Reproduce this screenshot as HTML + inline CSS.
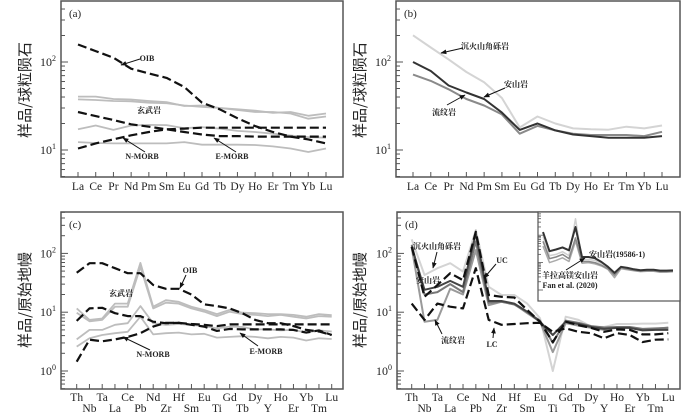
<!DOCTYPE html>
<html><head><meta charset="utf-8"><style>
body{margin:0;background:#fff;}
svg{display:block;font-family:"Liberation Serif","Noto Serif CJK SC",serif;}
.ann{font-family:"Liberation Serif","Noto Serif CJK SC","Noto Sans CJK SC",serif;font-size:8px;font-weight:bold;fill:#222;}
</style></head><body>
<svg id="chart" width="700" height="414" viewBox="0 0 700 414">
<defs><marker id="ah" viewBox="0 0 10 10" refX="9" refY="5" markerWidth="6" markerHeight="6" orient="auto"><path d="M0,1 L10,5 L0,9 z" fill="#111"/></marker></defs>
</svg>
<script>
// ---------- data ----------
const reeElements = ["La","Ce","Pr","Nd","Pm","Sm","Eu","Gd","Tb","Dy","Ho","Er","Tm","Yb","Lu"];
const traceElements = ["Th","Nb","Ta","La","Ce","Pb","Nd","Zr","Hf","Sm","Eu","Ti","Gd","Tb","Dy","Y","Ho","Er","Yb","Tm","Lu"];
// panel a
const aOIB   = [158,133,112,84,74,66,52,34.5,29,23,18.7,16,14.2,13.2,11.9];
const aEMORB = [27,24.3,21.9,19.6,18.4,17.2,16,15,14.4,14.4,14.2,14.2,14.2,14.2,14.2];
const aNMORB = [10.4,11.9,13.2,14.7,16,17.2,17.5,17.9,17.9,17.9,17.9,17.9,17.9,17.9,17.9];
const aBasalt1 = [40.4,40.4,38,37.5,36,35,31.6,32,30,29,28,26.5,27,24.5,26];
const aBasalt2 = [37.6,37,36,35.8,34.5,34,32,31,30,28.5,27,27,26,22.7,24];
const aBasalt3 = [17.2,19,16.9,19,19.3,19.2,17.7,18.2,17.5,16.5,16,15.3,14.6,14,13.8];
const aBasalt4 = [12.3,12,11.9,11.9,11.9,11.9,12.3,11.5,11.5,11.5,11.4,11,10.4,9.5,10.4];
// panel b
const bBreccia  = [201,146,107,77,59,39,18,24,20,17.6,17.2,17,18.4,17.6,19];
const bAndesite = [100,79,54,45,38,26.6,16.9,20,16.7,15,14.4,13.8,13.8,13.8,14.4];
const bRhyolite = [72,61,49,38,32,25.4,15.3,18.8,16.7,15.3,14.8,14.8,14.8,14.4,16.1];
// panel c
const cOIB   = [47,68,68,56,46,46,29,25,25,20,13.6,12.7,11.6,9.6,7.4,6.5,6.5,5.8,5,4.7,4.1];
const cEMORB = [7.1,11.6,11.9,9.6,8.6,8.6,6.9,6.5,6.6,6.1,5.7,4.8,5.2,5.1,5.1,5.1,5.1,5,4.5,4.9,4.1];
const cNMORB = [1.44,3.4,3.2,3.45,3.8,4.4,5.7,6.6,6.6,6.3,6.1,5.8,6.2,6.2,6.2,6.2,6.2,6.2,6.2,6.2,6.2];
const cBasalt1 = [11.6,7.4,7.8,14,14,69,12.4,16,15,12.4,10.9,9.3,11,9.8,9.6,9.3,9.3,9,8.4,9.3,8.9];
const cBasalt2 = [9.8,7,7.4,12.4,12.4,59,11.6,14.5,14,11.6,10.2,8.6,10.2,9.3,9,8.6,9,8.4,7.8,8.6,8.4];
const cBasalt3 = [3.45,5,5,6.1,6.5,12.7,6.5,6.1,6.3,6.1,5.8,5.3,5.7,5.6,5.1,5.1,4.9,5,4.5,4.9,4.7];
const cBasalt4 = [2.6,3.6,4.1,4.4,4.65,8.4,4.2,4.4,4.5,4.2,4.3,3.7,3.8,3.9,3.8,3.6,3.8,3.7,3.3,3.6,3.5];
// panel d
const dBreccia  = [173,43,56,68,49,250,27,19.6,19.6,14,7.9,1.0,8.4,7.4,5.7,5.6,6.3,6.3,6.4,6.4,6.6];
const dAndesite = [130,24,27,34,27,218,15.5,15.5,14,10.2,6.9,4.1,6.9,6.3,5.6,5.2,5.4,5.4,4.9,5,5];
const dAndesite2= [140,20,22,30,22,160,14.5,15,13.5,10,7.2,3.0,7.2,6.6,5.8,5.5,5.6,5.6,5.2,5.3,5.4];
const dRhyolite = [125,6.9,7.4,25,20,114,13.2,15,13.8,9.6,6.9,2.1,6.5,5.9,5.4,5,5.6,5.4,5,5.2,5.5];
const dUC = [130,18.3,29,46,35,233,19.6,18.3,17.8,10.9,6.9,3.1,6.9,6,5.4,4.65,5.1,5,4.2,4.2,4.4];
const dLC = [14,7.4,14,12.4,11.6,56,7.4,6.1,6.3,6.5,6.6,4.65,5.3,4.65,4.4,3.6,4.4,4.1,3.1,3.4,3.45];
// inset
const insetAndesite = [130,26,30,36,28,200,16,16,14.5,10.5,7,4.2,7,6.4,5.7,5.3,5.5,5.5,5.1,5.1,5.2];
const insetYangla1 = [60,14,16,20,14,80,11,11,10,8,6,3.5,6.5,5.8,5.2,4.9,5,5,4.6,4.7,4.8];
const insetYangla2 = [40,10,12,15,11,60,9.5,10,9,7.5,5.6,2.8,6,5.5,5,4.7,4.8,4.8,4.5,4.5,4.6];
const insetYangla3 = [90,18,20,25,18,400,13,13,12,9,6.5,3.2,6.8,6,5.4,5,5.2,5.2,4.8,4.9,5];

// ---------- drawing ----------
const NS="http://www.w3.org/2000/svg";
const svg=document.getElementById('chart');
function mk(tag,attrs,parent){const e=document.createElementNS(NS,tag);for(const k in attrs)e.setAttribute(k,attrs[k]);(parent||svg).appendChild(e);return e;}

function makePanel(p){
  const g=mk('g',{});
  
  
  p.g=g;
  p.x=i=>p.x0+i*(p.x1-p.x0)/(p.cats.length-1);
  p.y=v=>p.yRef-(Math.log10(v)-p.logRef)*p.dec;
  const fr=mk('rect',{x:p.L,y:p.T,width:p.R-p.L,height:p.B-p.T,fill:'none',stroke:'#555','stroke-width':1.5},g);
  
  
  const lmin=(p.yRef-p.B)/p.dec+p.logRef, lmax=(p.yRef-p.T)/p.dec+p.logRef;
  for(let d=Math.floor(lmin);d<=Math.ceil(lmax);d++){
    for(let m=1;m<10;m++){
      const v=m*10**d, lv=Math.log10(v);
      if(lv<lmin||lv>lmax)continue;
      const yy=p.y(v);
      mk('line',{x1:p.L,x2:p.L+(m==1?7:4),y1:yy,y2:yy,stroke:'#555','stroke-width':1},g);
      if(m==1&&p.majors.includes(d)){
        const t=mk('text',{x:p.L-5,y:yy+4,'text-anchor':'end','font-size':12,fill:'#222'},g);
        
        
        t.textContent='10';
        const s=mk('tspan',{dy:-5,'font-size':8},t); s.textContent=String(d);
      }
    }
  }
  p.cats.forEach((c,i)=>{
    const xx=p.x(i);
    mk('line',{x1:xx,x2:xx,y1:p.B,y2:p.B-5,stroke:'#555','stroke-width':1},g);
    const two=p.cats.length>15;
    const t=mk('text',{x:xx,y:two?(i%2? p.B+23:p.B+12):p.B+13,'text-anchor':'middle','font-size':11.5,fill:'#222'},g);
    
    
    t.textContent=c;
  });
  const pl=mk('text',{x:p.L+8,y:p.T+16,'font-size':11,fill:'#222'},g);
  
  
  pl.textContent=p.label;
  const yt=mk('text',{x:p.ytx,y:p.yty,'text-anchor':'middle','font-size':15,fill:'#222','font-family':'"Noto Sans CJK SC",sans-serif',transform:`rotate(-90 ${p.ytx} ${p.yty})`},g);
  
  
  yt.textContent=p.ytitle;
  return p;
}
function series(p,vals,style,name){
  const d=vals.map((v,i)=>(i?'L':'M')+p.x(i).toFixed(1)+','+p.y(v).toFixed(1)).join(' ');
  const e=mk('path',Object.assign({d:d,fill:'none','stroke-linejoin':'round'},style),p.g);
  
  
  return e;
}
function ann(txt,x,y,name,ax){
  const t=mk('text',{x:x,y:y,class:'ann','text-anchor':'middle'});
  
  
  t.textContent=txt;
  if(ax){const a=mk('line',{x1:ax[0],y1:ax[1],x2:ax[2],y2:ax[3],stroke:'#111','stroke-width':1,'marker-end':'url(#ah)'});
    
    }
}
const dash={stroke:'#111','stroke-width':2.2,'stroke-dasharray':'9,4'};
const grey=w=>({stroke:'#bdbdbd','stroke-width':w||2});

const A=makePanel({name:'panel-a',label:'(a)',cats:reeElements,L:61,R:343,T:1,B:177,x0:78,x1:326,yRef:150,logRef:1,dec:88,majors:[1,2],ytx:30,yty:90,ytitle:'样品/球粒陨石'});
[aBasalt1,aBasalt2,aBasalt3,aBasalt4].forEach((s,i)=>series(A,s,grey(1.8),'basalt-line-'+(i+1)));
series(A,aOIB,dash,'oib-line');series(A,aEMORB,dash,'e-morb-line');series(A,aNMORB,dash,'n-morb-line');
ann('OIB',147,61,'oib-label',[140,59,121,65]);
ann('玄武岩',149,113,'basalt-label');
ann('N-MORB',142,159,'n-morb-label',[145,152,123,138]);
ann('E-MORB',232,159,'e-morb-label',[236,152,214,138]);

const Bp=makePanel({name:'panel-b',label:'(b)',cats:reeElements,L:396,R:680,T:1,B:177,x0:413,x1:662,yRef:150,logRef:1,dec:88,majors:[1,2],ytx:365,yty:90,ytitle:'样品/球粒陨石'});
series(Bp,bBreccia,{stroke:'#d4d4d4','stroke-width':2},'breccia-line');
series(Bp,bRhyolite,{stroke:'#8a8a8a','stroke-width':2},'rhyolite-line');
series(Bp,bAndesite,{stroke:'#333','stroke-width':2},'andesite-line');
ann('沉火山角砾岩',485,49,'breccia-label',[463,48,441,53]);
ann('安山岩',516,87,'andesite-label',[505,88,484,97]);
ann('流纹岩',444,115,'rhyolite-label',[447,105,465,95]);

const C=makePanel({name:'panel-c',label:'(c)',cats:traceElements,L:61,R:343,T:212,B:389,x0:76.7,x1:331.7,yRef:371,logRef:0,dec:58.8,majors:[0,1,2],ytx:30,yty:300,ytitle:'样品/原始地幔'});
[cBasalt1,cBasalt2,cBasalt3,cBasalt4].forEach((s,i)=>series(C,s,grey(1.8),'trace-basalt-line-'+(i+1)));
series(C,cOIB,dash,'trace-oib-line');series(C,cEMORB,dash,'trace-e-morb-line');series(C,cNMORB,dash,'trace-n-morb-line');
ann('OIB',190,273,'trace-oib-label',[186,275,180,288]);
ann('玄武岩',121,296,'trace-basalt-label');
ann('N-MORB',153,357,'trace-n-morb-label',[150,350,123,337]);
ann('E-MORB',266,354,'trace-e-morb-label',[258,346,240,333]);

const D=makePanel({name:'panel-d',label:'(d)',cats:traceElements,L:397,R:680,T:212,B:389,x0:411.7,x1:668.3,yRef:371,logRef:0,dec:58.8,majors:[0,1,2],ytx:365,yty:300,ytitle:'样品/原始地幔'});
series(D,dBreccia,{stroke:'#d4d4d4','stroke-width':2},'trace-breccia-line');
series(D,dRhyolite,{stroke:'#9a9a9a','stroke-width':2},'trace-rhyolite-line');
series(D,dAndesite2,{stroke:'#777','stroke-width':2},'trace-andesite-line-2');
series(D,dAndesite,{stroke:'#444','stroke-width':2},'trace-andesite-line');
series(D,dUC,dash,'uc-line');series(D,dLC,dash,'lc-line');
ann('沉火山角砾岩',437,249,'trace-breccia-label',[437,252,433,268]);
ann('安山岩',428,283,'trace-andesite-label');
ann('流纹岩',453,343,'trace-rhyolite-label',[442,334,435,320]);
ann('UC',502,263,'uc-label',[496,264,484,278]);
ann('LC',492,347,'lc-label',[493,338,494,328]);

const I={name:'inset',cats:traceElements,x0:543,x1:673,yRef:290,logRef:0,dec:27.4};
I.g=mk('g',{});


I.x=i=>I.x0+i*(I.x1-I.x0)/(I.cats.length-1);
I.y=v=>Math.max(212,I.yRef-Math.log10(v)*I.dec);
const ir=mk('rect',{x:538,y:212,width:142,height:89,fill:'#fff',stroke:'#555','stroke-width':1.2},I.g);


for(let d=0;d<3;d++)for(let m=1;m<10;m++){const yy=I.yRef-Math.log10(m*10**d)*I.dec;if(yy<212)continue;mk('line',{x1:538,x2:538+(m==1?5:3),y1:yy,y2:yy,stroke:'#555','stroke-width':0.8},I.g);}
series(I,insetYangla3,{stroke:'#d0d0d0','stroke-width':1.5},'inset-yangla-line-3');
series(I,insetYangla2,{stroke:'#aaa','stroke-width':1.5},'inset-yangla-line-2');
series(I,insetYangla1,{stroke:'#888','stroke-width':1.5},'inset-yangla-line-1');
series(I,insetAndesite,{stroke:'#333','stroke-width':2},'inset-andesite-line');
ann('安山岩(19586-1)',617,257,'inset-andesite-label');
ann('羊拉高镁安山岩',570,278,'inset-yangla-label',[566,270,585,258]);
ann('Fan et al. (2020)',570,288,'inset-citation');
</script>
</body></html>
